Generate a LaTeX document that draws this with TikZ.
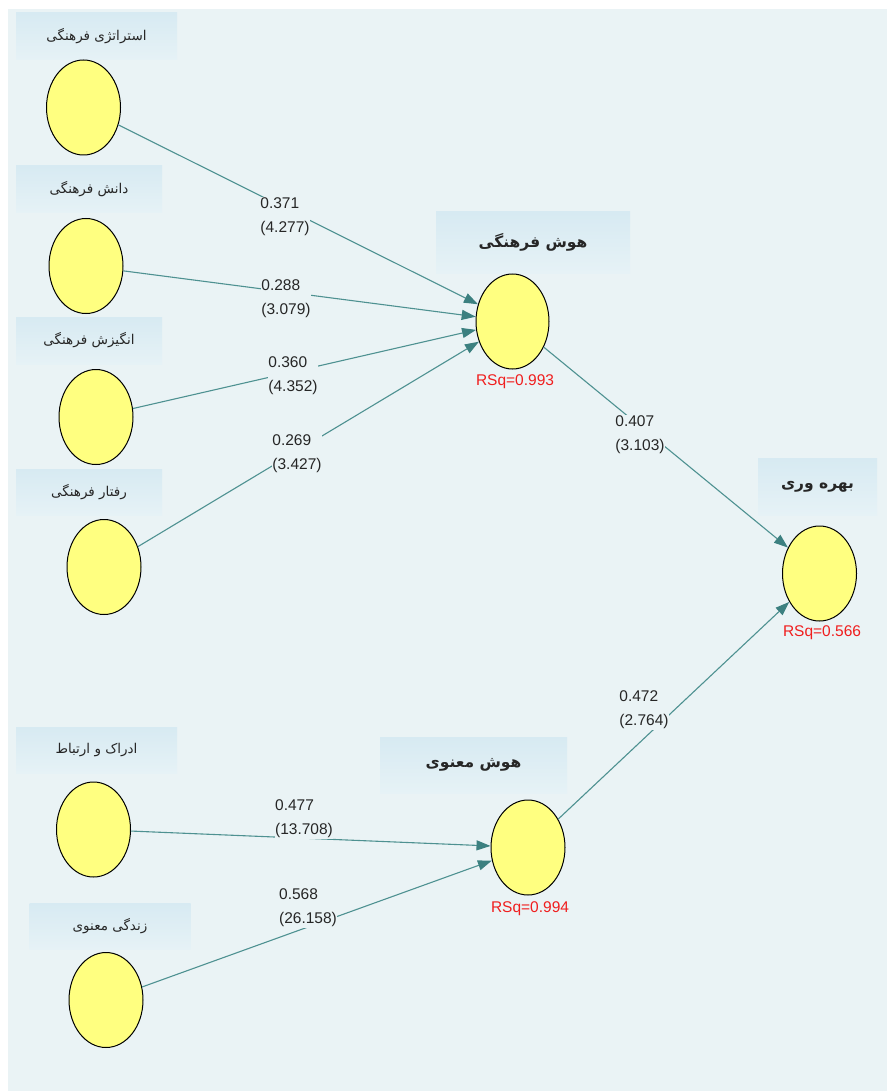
\documentclass[tikz,border=0pt]{standalone}
\usepackage{fontspec}
\usetikzlibrary{shapes.geometric,arrows.meta}
\TeXXeTstate=1
\newfontfamily\fa[Script=Arabic]{DejaVu Sans}
\newfontfamily\num{Liberation Sans}
\definecolor{panel}{RGB}{234,243,245}
\definecolor{boxtop}{RGB}{215,234,242}
\definecolor{boxbot}{RGB}{230,242,246}
\definecolor{lvfill}{RGB}{255,255,128}
\definecolor{edgec}{RGB}{78,145,145}
\definecolor{arrc}{RGB}{60,128,128}
\definecolor{rsq}{RGB}{240,30,30}
\begin{document}
\begin{tikzpicture}[x=1pt,y=-1pt,
  lv/.style={ellipse, draw=black, line width=1pt, fill=lvfill, minimum width=74pt, minimum height=95pt, inner sep=0pt},
  hdr/.style={rectangle, top color=boxtop, bottom color=boxbot, draw=none, inner sep=0pt, text=black!85},
  small/.style={hdr, font=\fa\fontsize{13.5}{15}\selectfont},
  big/.style={hdr, font=\fa\bfseries\fontsize{15.5}{17}\selectfont},
  path/.style={draw=edgec, line width=1.1pt, -{Triangle[length=14pt,width=10pt,fill=arrc,color=arrc]}},
  coef/.style={font=\num\fontsize{15.5}{24}\selectfont, align=left, fill=panel, inner sep=0.5pt, text=black!85},
  rsqlab/.style={font=\num\fontsize{15.5}{18}\selectfont, text=rsq, inner sep=0pt}
]
\useasboundingbox (0,0) rectangle (887,1091);
\fill[white] (0,0) rectangle (887,1091);
\fill[panel] (8,9) rectangle (887,1091);

% header boxes
\node[small, minimum width=161pt, minimum height=47pt] (b1) at (96.5,36.5) {\beginR استراتژی فرهنگی\endR};
\node[small, minimum width=146pt, minimum height=47pt] (b2) at (89,189.5) {\beginR دانش فرهنگی\endR};
\node[small, minimum width=146pt, minimum height=47pt] (b3) at (89,340.5) {\beginR انگیزش فرهنگی\endR};
\node[small, minimum width=146pt, minimum height=46pt] (b4) at (89,492) {\beginR رفتار فرهنگی\endR};
\node[small, minimum width=161pt, minimum height=46pt] (b5) at (96.5,750) {\beginR ادراک و ارتباط\endR};
\node[small, minimum width=161pt, minimum height=46pt] (b6) at (110,926) {\beginR زندگی معنوی\endR};
\node[big, minimum width=194pt, minimum height=61pt] (bhf) at (533,242.5) {\beginR هوش فرهنگی\endR};
\node[big, minimum width=119pt, minimum height=57pt] (bbw) at (817.5,486.5) {\beginR بهره وری\endR};
\node[big, minimum width=187pt, minimum height=56pt] (bhm) at (473.5,765) {\beginR هوش معنوی\endR};

% latent variables
\node[lv] (e1) at (83.5,107.5) {};
\node[lv] (e2) at (86,266) {};
\node[lv] (e3) at (96,417) {};
\node[lv] (e4) at (104,567) {};
\node[lv] (e5) at (93.5,829.5) {};
\node[lv] (e6) at (106,1000) {};
\node[lv, minimum width=73pt] (hf) at (512.5,321.5) {};
\node[lv] (bw) at (819.5,573.5) {};
\node[lv] (hm) at (528,847.5) {};

% paths
\draw[path] (e1) -- (hf);
\draw[path] (e2) -- (hf);
\draw[path] (e3) -- (hf);
\draw[path] (e4) -- (hf);
\draw[path] (hf) -- (bw);
\draw[path] (hm) -- (bw);
\draw[path] (e5) -- (hm);
\draw[path] (e6) -- (hm);

% coefficients
\node[coef] (c1) at (285,217) {0.371\\(4.277)};
\node[coef] (c2) at (286,299) {0.288\\(3.079)};
\node[coef] (c3) at (293,376) {0.360\\(4.352)};
\node[coef] (c4) at (297,454) {0.269\\(3.427)};
\node[coef] (c5) at (640,435) {0.407\\(3.103)};
\node[coef] (c6) at (644,710) {0.472\\(2.764)};
\node[coef] (c7) at (304,819) {0.477\\(13.708)};
\node[coef] (c8) at (308,908) {0.568\\(26.158)};

% R squared
\node[rsqlab] (r1) at (515,382) {RSq=0.993};
\node[rsqlab] (r2) at (822,633) {RSq=0.566};
\node[rsqlab] (r3) at (530,909) {RSq=0.994};
\end{tikzpicture}
\end{document}
